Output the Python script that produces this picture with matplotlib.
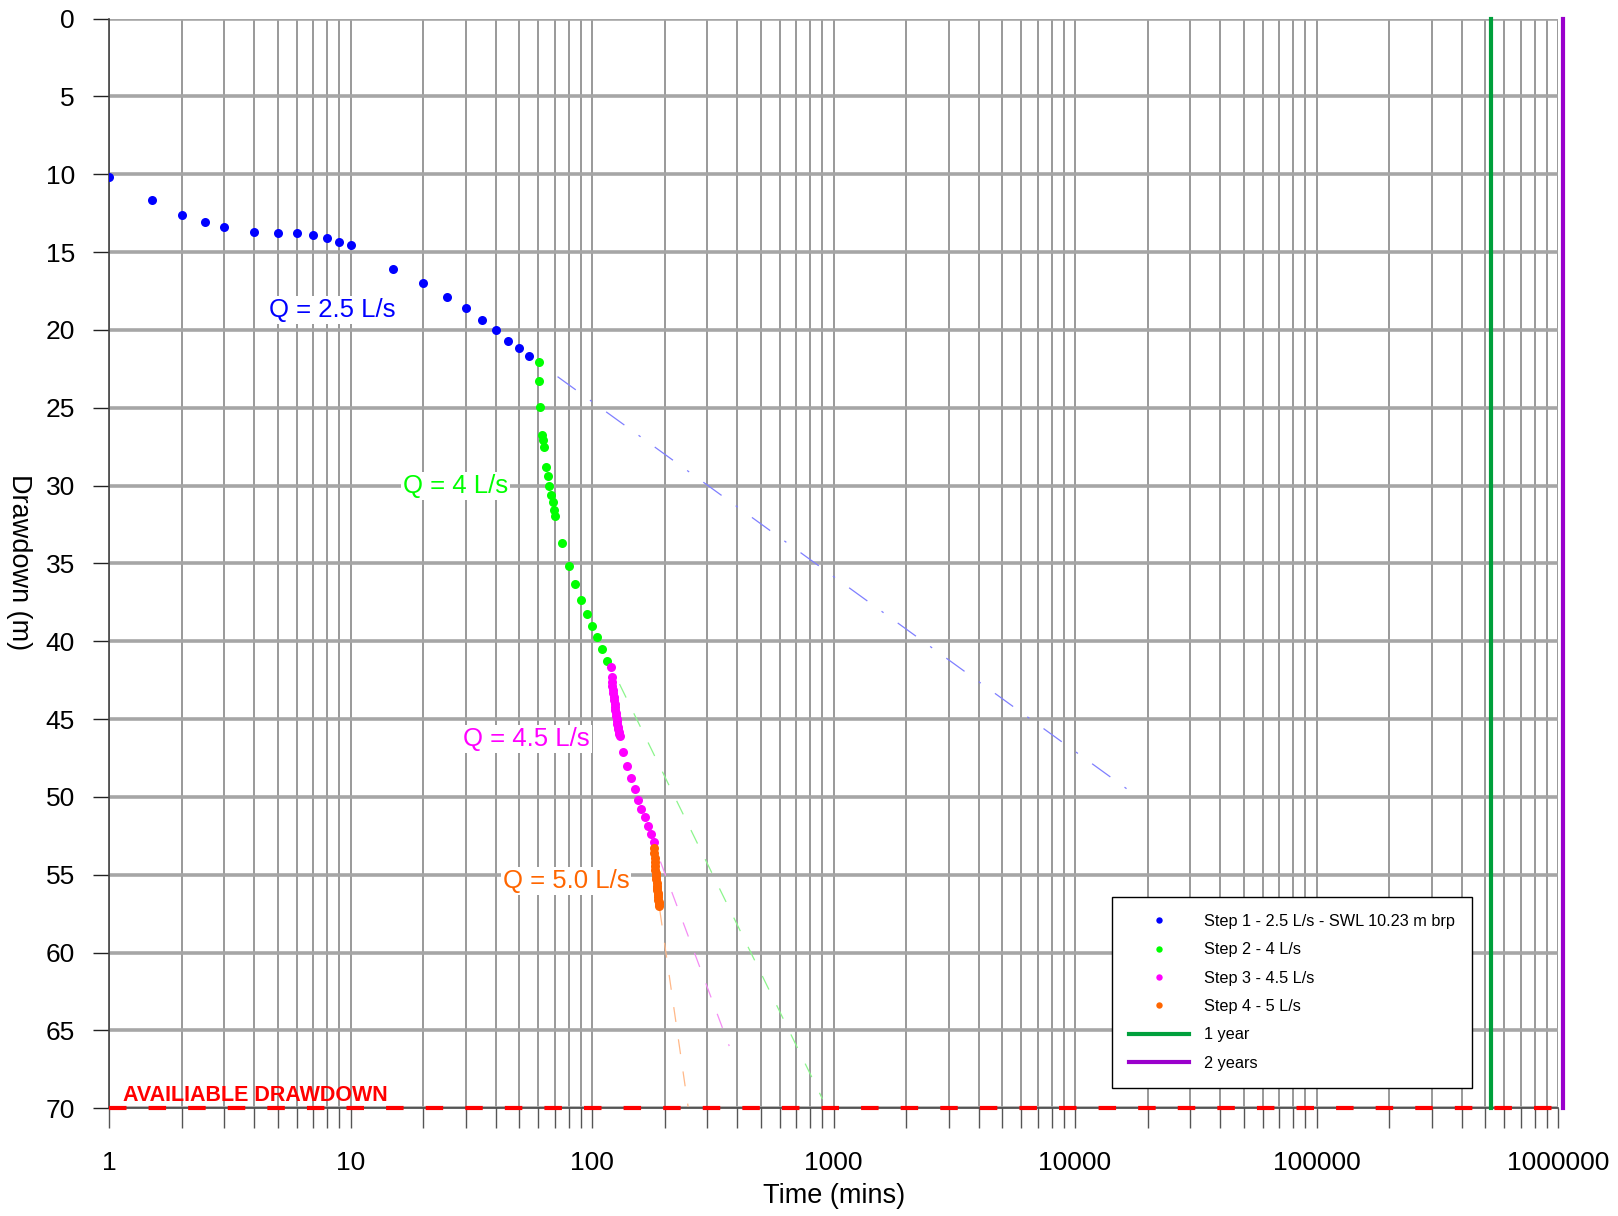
import matplotlib
matplotlib.use("Agg")
import matplotlib.pyplot as plt
from matplotlib.lines import Line2D
from matplotlib.ticker import FixedLocator, LogLocator, FuncFormatter, NullFormatter

plt.rcParams['font.family'] = ['Liberation Sans', 'DejaVu Sans']

# ---- step-drawdown test data (time in minutes, drawdown in metres) ----
step1_t = [1, 1.5, 2, 2.5, 3, 4, 5, 6, 7, 8, 9, 10, 15, 20, 25, 30, 35, 40, 45, 50, 55]
step1_s = [10.15, 11.67, 12.63, 13.06, 13.4, 13.7, 13.75, 13.79, 13.9, 14.11, 14.35,
           14.54, 16.06, 17.0, 17.86, 18.6, 19.34, 20.02, 20.73, 21.18, 21.65]

step2_t = [60.4, 60.5, 61, 61.8, 62.4, 63.4, 64.4, 65.7, 66.5, 67.6, 68.7, 69.3, 70.4,
           75, 80, 85, 90, 95, 100, 105, 110, 115]
step2_s = [22.03, 23.28, 24.93, 26.75, 27.07, 27.53, 28.78, 29.38, 30.0, 30.58, 31.07,
           31.54, 31.97, 33.7, 35.14, 36.29, 37.36, 38.24, 38.99, 39.72, 40.5, 41.26]

step3_t = [120, 120.5, 121, 121.5, 122, 122.5, 123, 123.5, 124, 124.5, 125, 125.5, 126,
           126.5, 127, 127.5, 128, 128.5, 129, 129.5, 130,
           135, 140, 145, 150, 155, 160, 165, 170, 175, 180]
step3_s = [41.65, 42.3, 42.6, 42.9, 43.1, 43.35, 43.6, 43.8, 44.0, 44.2, 44.4, 44.6, 44.8,
           45.0, 45.15, 45.3, 45.5, 45.65, 45.8, 45.95, 46.1,
           47.1, 48.0, 48.8, 49.5, 50.2, 50.8, 51.3, 51.85, 52.4, 52.9]

step4_t = [180.5, 181, 181.5, 182, 182.5, 183, 183.5, 184, 184.5, 185, 185.5, 186, 186.5,
           187, 187.5, 188, 188.5, 189, 189.5, 190]
step4_s = [53.3, 53.6, 53.9, 54.2, 54.45, 54.7, 54.9, 55.1, 55.3, 55.5, 55.7, 55.85, 56.0,
           56.15, 56.3, 56.45, 56.6, 56.75, 56.9, 57.0]

# straight-line projections of each step
proj1_t = [72, 17500]
proj1_s = [23.0, 49.8]
proj2_t = [130, 900]
proj2_s = [42.75, 69.4]
proj3_t = [192, 370]
proj3_s = [54.15, 66.0]
proj4_t = [191, 250]
proj4_s = [57.3, 69.9]

one_year = 525600
two_years = 1051200
available_drawdown = 70

x_ticks = [1, 10, 100, 1000, 10000, 100000, 1000000]
y_ticks = list(range(0, 75, 5))

BLUE = '#0000ff'
GREEN = '#00ff00'
MAGENTA = '#ff00ff'
ORANGE = '#ff6600'
YEAR1 = '#00a03c'
YEAR2 = '#9a00cc'

W, H = 1618, 1216
fig = plt.figure(figsize=(W / 100, H / 100), dpi=100)
left, right, top, bottom = 109, 1558, 18.6, 1108.3
ax = fig.add_axes([left / W, 1 - bottom / H, (right - left) / W, (bottom - top) / H])

ax.set_xscale('log')
ax.set_xlim(1, 1e6)
ax.set_ylim(70, 0)

ax.xaxis.set_major_locator(FixedLocator(x_ticks))
ax.xaxis.set_major_formatter(FuncFormatter(lambda v, p: f"{int(round(v))}"))
ax.xaxis.set_minor_locator(LogLocator(base=10, subs=range(2, 10), numticks=100))
ax.xaxis.set_minor_formatter(NullFormatter())
ax.yaxis.set_major_locator(FixedLocator(y_ticks))

ax.set_axisbelow(True)
ax.grid(which='both', axis='x', color='#999999', lw=1.4)
ax.grid(which='major', axis='y', color='#a6a6a6', lw=2.6)

TICK_FS = 19
ax.tick_params(axis='x', which='both', direction='out', length=14.4, width=1.0,
               color='#555555', pad=16, labelsize=TICK_FS)
ax.tick_params(axis='y', which='major', direction='out', length=11.5, width=1.0,
               color='#222222', pad=13, labelsize=TICK_FS)
for side in ('top', 'right'):
    ax.spines[side].set_visible(False)
for side in ('left', 'bottom'):
    ax.spines[side].set_color('#444444')
    ax.spines[side].set_linewidth(1.2)

# projections
dash = (0, (12, 14))
ax.plot(proj1_t, proj1_s, color='#7f7fff', lw=0.9, ls=(0, (18, 14, 2, 14)), zorder=2)
ax.plot(proj2_t, proj2_s, color='#8cf58c', lw=0.9, ls=dash, zorder=2)
ax.plot(proj3_t, proj3_s, color='#f58cf5', lw=0.9, ls=dash, zorder=2)
ax.plot(proj4_t, proj4_s, color='#ffb888', lw=0.9, ls=dash, zorder=2)

# available drawdown
ax.plot([1, 1e6], [available_drawdown, available_drawdown], color='#ff0000', lw=3,
        ls=(0, (4.2, 5.3)), zorder=3, clip_on=False)
ax.text(1.14, 69.5, 'AVAILIABLE DRAWDOWN', color='#ff0000', fontsize=15.5,
        fontweight='bold', ha='left', va='baseline', zorder=4)

# time horizons
ax.plot([one_year, one_year], [0, 70], color=YEAR1, lw=3, zorder=3, clip_on=False)
ax.plot([two_years, two_years], [0, 70], color=YEAR2, lw=3, zorder=3, clip_on=False)

# observed drawdown
ms = 6.5
ax.plot(step1_t, step1_s, 'o', color=BLUE, ms=ms, mec='none', zorder=5)
ax.plot(step2_t, step2_s, 'o', color=GREEN, ms=ms, mec='none', zorder=5)
ax.plot(step3_t, step3_s, 'o', color=MAGENTA, ms=ms, mec='none', zorder=5)
ax.plot(step4_t, step4_s, 'o', color=ORANGE, ms=ms, mec='none', zorder=5)

box = dict(facecolor='white', edgecolor='none', pad=1.5)
Q_FS = 18.5
ax.text(8.4, 18.7, 'Q = 2.5 L/s', color=BLUE, fontsize=Q_FS, ha='center', va='center', bbox=box, zorder=4)
ax.text(27.2, 30.0, 'Q = 4 L/s', color=GREEN, fontsize=Q_FS, ha='center', va='center', bbox=box, zorder=4)
ax.text(53.6, 46.3, 'Q = 4.5 L/s', color=MAGENTA, fontsize=Q_FS, ha='center', va='center', bbox=box, zorder=4)
ax.text(78, 55.4, 'Q = 5.0 L/s', color=ORANGE, fontsize=Q_FS, ha='center', va='center', bbox=box, zorder=4)

fig.text(834 / W, 1 - 1196 / H, 'Time (mins)', fontsize=19.5, ha='center', va='center')
fig.text(18.6 / W, 1 - 562 / H, 'Drawdown (m)', fontsize=19.5, ha='center', va='center',
         rotation=270)

handles = [
    Line2D([], [], ls='none', marker='o', color=BLUE, ms=4.6, mec='none'),
    Line2D([], [], ls='none', marker='o', color=GREEN, ms=4.6, mec='none'),
    Line2D([], [], ls='none', marker='o', color=MAGENTA, ms=4.6, mec='none'),
    Line2D([], [], ls='none', marker='o', color=ORANGE, ms=4.6, mec='none'),
    Line2D([], [], color=YEAR1, lw=3),
    Line2D([], [], color=YEAR2, lw=3),
]
labels = ['Step 1 - 2.5 L/s - SWL 10.23 m brp', 'Step 2 - 4 L/s', 'Step 3 - 4.5 L/s',
          'Step 4 - 5 L/s', '1 year', '2 years']
leg = fig.legend(handles, labels, loc='upper left', bbox_to_anchor=(1112 / W, 1 - 897 / H),
                 fontsize=11.7, frameon=True, fancybox=False, edgecolor='black',
                 handlelength=3.7, handletextpad=0.89, labelspacing=0.82,
                 borderpad=1.05, borderaxespad=0)
leg.get_frame().set_linewidth(1.0)
leg.get_frame().set_facecolor('white')
leg.get_frame().set_alpha(1)

fig.savefig('out.png', dpi=100)
